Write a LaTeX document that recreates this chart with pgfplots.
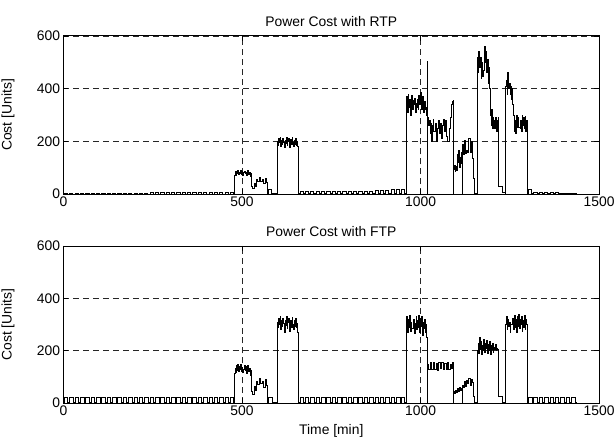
\documentclass[border=0pt]{standalone}
\usepackage{pgfplots}
\pgfplotsset{compat=1.18}
\usepackage{fontspec}
\setmainfont{Liberation Sans}
\begin{document}
\pgfplotsset{
  mystyle/.style={
    width=538bp, height=159bp, scale only axis,
    xmin=0, xmax=1500, ymin=0, ymax=600,
    xtick={0,500,1000,1500}, ytick={0,200,400,600},
    grid=major,
    major grid style={dash pattern=on 6bp off 4bp, black!85, line width=0.6bp},
    tick align=inside, major tick length=5bp,
    axis line style={line width=0.8bp},
    every tick/.style={black, line width=0.6bp},
    tick label style={font=\fontsize{14}{16}\selectfont},
    label style={font=\fontsize{14}{16}\selectfont},
    title style={font=\fontsize{14}{16}\selectfont, yshift=0bp},
    /pgf/number format/assume math mode=true,
    /pgf/number format/1000 sep={},
    ylabel={Cost [Units]},
    ylabel style={at={(axis description cs:-0.085,0.5)}},
    xticklabel style={yshift=1bp},
  },
  sig/.style={const plot, black, line width=0.6bp, mark=none},
}
\begin{tikzpicture}
\begin{axis}[mystyle, at={(0bp,0bp)}, anchor=south west, title={Power Cost with RTP}]
\addplot[sig] coordinates {
(0,1) (2,3) (11,1) (17,3) (26,1) (32,3) (41,1) (47,3) (56,1) (62,3) (71,1) (77,3) (86,1) (92,3) (101,1) (107,3) (116,1) (122,3) (131,1) (137,3) (146,1) (152,3) (161,1) (167,3) (176,1) (182,3) (191,1) (197,3) (206,1) (212,3) (221,1) (227,3) (236,1)
(242,7) (251,1) (257,7) (266,1) (272,7) (281,1) (287,7) (296,1) (302,7) (311,1) (317,7) (326,1) (332,7) (341,1) (347,7) (356,1) (362,7) (371,1) (377,7) (386,1) (392,7) (401,1) (407,7) (416,1) (422,7) (431,1) (437,7) (446,1) (452,7) (461,1) (467,7) (475,1)
(478,72) (480,85) (482,70) (484,88) (486,78) (488,92) (490,74) (492,84) (494,80) (496,90) (498,76) (500,86) (502,72) (504,82) (506,88) (508,78) (510,84) (512,70) (514,80) (516,90) (518,76) (520,84) (522,66) (524,80)
(526,30) (530,22) (534,42) (536,30) (540,58) (544,48) (548,62) (552,50) (556,56) (560,40) (564,60) (567,44)
(570,3) (574,18) (582,3)
(598,200) (600,185) (602,210) (604,195) (606,215) (608,180) (610,205) (612,190) (614,212) (616,198) (618,176) (620,205) (622,192) (624,215) (626,185) (628,200) (630,210) (632,178) (634,198) (636,206) (638,188) (640,214) (642,196) (644,182) (646,205) (648,190) (650,210) (652,186) (654,200) (656,180)
(657,2) (662,9) (671,2) (677,9) (686,2) (692,9) (701,2) (707,9) (716,2) (722,9) (731,2) (737,9) (746,2) (752,9) (761,2) (767,9) (776,2) (782,10) (791,2) (797,10) (806,2) (812,10) (821,2) (827,11) (836,2) (842,11) (851,2) (857,12) (866,2) (872,14) (881,2) (887,15) (896,2) (902,16) (911,2) (917,17) (926,2) (932,17) (941,2) (947,18) (955,2)
(959,340) (961,370) (963,310) (965,380) (967,330) (969,360) (971,300) (973,350) (975,375) (977,320) (979,355) (981,340) (983,365) (985,310) (987,345) (989,330) (991,360) (993,320) (995,375) (997,340) (999,385) (1001,350) (1003,320) (1005,370) (1007,340) (1009,310) (1011,350) (1013,320) (1015,300) (1017,330)
(1018.5,0) (1019,505) (1019.5,0) (1020,290)
(1022,260) (1024,280) (1026,230) (1028,270) (1030,200) (1033,260) (1035,285) (1037,240) (1040,270) (1043,200) (1046,200) (1048,250) (1050,280) (1052,230) (1055,270) (1058,210) (1061,260) (1064,285) (1066,240) (1069,280) (1072,220) (1075,200) (1078,200) (1081,250) (1083,290) (1085,330) (1087,340) (1089,350) (1091,355)
(1091.5,0) (1092,95) (1094,110) (1096,88) (1098,105) (1100,92) (1102,150) (1104,120) (1106,165) (1108,100) (1110,140) (1112,115) (1114,160) (1116,125)
(1116.5,0) (1117,190) (1120,150) (1123,205) (1126,155) (1129,165) (1132,160) (1135,210) (1138,160) (1141,200) (1144,135) (1147,60)
(1150,3)
(1159,520) (1161,460) (1163,540) (1165,480) (1167,520) (1169,440) (1171,500) (1173,445) (1175,445) (1177,470) (1179,560) (1181,500) (1183,540) (1185,460) (1187,510) (1189,420) (1191,480) (1193,400) (1195,300) (1197,260) (1199,320) (1201,250) (1203,290) (1205,280) (1207,250) (1209,290) (1211,290) (1213,240) (1215,280) (1217,290)
(1219,28) (1228,8) (1236,3)
(1238,410) (1240,430) (1242,380) (1244,460) (1246,400) (1248,420) (1250,380) (1252,410) (1254,360) (1256,400) (1258,340) (1260,300) (1262,240) (1264,280) (1266,230) (1268,300) (1270,255) (1272,290) (1274,253) (1276,253) (1278,250) (1280,280) (1282,240) (1284,300) (1286,260) (1288,290) (1290,250) (1292,295) (1294,240) (1296,280) (1298,250)
(1300,3) (1303,19) (1310,3) (1317,7) (1326,2) (1332,7) (1341,2) (1347,7) (1356,2) (1362,6) (1371,2) (1377,6) (1386,2) (1392,5) (1401,2) (1407,5) (1416,2) (1422,5) (1431,2) (1437,2)
};
\end{axis}
\begin{axis}[mystyle, at={(0bp,-210bp)}, anchor=south west, height=158bp, title={Power Cost with FTP}, xlabel={Time [min]}, xlabel style={yshift=-2bp}]
\addplot[sig] coordinates {
(0,2) (2,22) (12,2) (17,22) (27,2) (32,22) (42,2) (47,22) (57,2) (62,22) (72,2) (77,22) (87,2) (92,22) (102,2) (107,22) (117,2) (122,22) (132,2) (137,22) (147,2) (152,22) (162,2) (167,22) (177,2) (182,22) (192,2) (197,22) (207,2) (212,22) (222,2) (227,22) (237,2) (242,22) (252,2) (257,22) (267,2) (272,22) (282,2) (287,22) (297,2) (302,22) (312,2) (317,22) (327,2) (332,22) (342,2) (347,22) (357,2) (362,22) (372,2) (377,22) (387,2) (392,22) (402,2) (407,22) (417,2) (422,22) (432,2) (437,22) (447,2) (452,22) (462,2) (467,22) (476,2)
(478,115) (480,135) (482,118) (484,145) (486,125) (488,150) (490,120) (492,140) (494,128) (496,148) (498,122) (500,138) (502,118) (504,130) (506,145) (508,125) (510,140) (512,115) (514,128) (516,145) (518,122) (520,135) (522,108) (524,125)
(526,45) (530,35) (534,65) (536,48) (540,85) (544,72) (548,95) (552,75) (556,85) (560,62) (564,92) (567,70)
(570,2) (574,24) (584,2)
(598,310) (600,290) (602,325) (604,300) (606,330) (608,280) (610,315) (612,295) (614,325) (616,305) (618,272) (620,315) (622,298) (624,330) (626,285) (628,308) (630,322) (632,275) (634,305) (636,315) (638,290) (640,328) (642,300) (644,280) (646,315) (648,292) (650,322) (652,288) (654,305) (656,270)
(657,2) (662,22) (672,2) (677,22) (687,2) (692,22) (702,2) (707,22) (717,2) (722,22) (732,2) (737,22) (747,2) (752,22) (762,2) (767,22) (777,2) (782,22) (792,2) (797,22) (807,2) (812,22) (822,2) (827,22) (837,2) (842,22) (852,2) (857,22) (867,2) (872,22) (882,2) (887,22) (897,2) (902,22) (912,2) (917,22) (927,2) (932,22) (942,2) (947,22) (955,2)
(959,300) (961,330) (963,270) (965,320) (967,290) (969,335) (971,275) (973,310) (975,285) (977,285) (979,285) (981,320) (983,265) (985,305) (987,330) (989,280) (991,315) (993,290) (995,335) (997,270) (999,325) (1001,295) (1003,330) (1005,260) (1007,310) (1009,285) (1011,320) (1013,270) (1015,300) (1017,250)
(1018.5,0) (1019,150) (1022,130) (1027,155) (1031,128) (1035,155) (1039,130) (1043,152) (1046,127) (1050,155) (1055,132) (1059,156) (1063,128) (1067,154) (1071,130) (1075,155) (1079,128) (1083,150) (1087,132) (1089,157)
(1091.5,0) (1092,45) (1095,38) (1098,48) (1101,40) (1103,55) (1106,45) (1109,62) (1112,50) (1115,58)
(1116.5,0) (1117,70) (1120,60) (1123,85) (1126,65) (1129,88) (1132,75) (1135,95) (1138,70) (1141,90) (1144,80) (1147,25)
(1150,2)
(1159,200) (1161,230) (1163,190) (1165,250) (1167,205) (1169,235) (1171,185) (1173,220) (1175,200) (1177,245) (1179,195) (1181,230) (1183,210) (1185,240) (1187,190) (1189,225) (1191,200) (1193,235) (1195,185) (1197,220) (1199,205) (1201,230) (1203,195) (1205,215) (1207,205) (1209,225) (1211,200) (1213,210) (1215,205) (1217,200)
(1219,25) (1228,3)
(1238,300) (1240,330) (1242,280) (1244,320) (1246,295) (1248,310) (1250,270) (1252,300) (1254,300) (1256,300) (1258,325) (1260,280) (1262,335) (1264,290) (1266,320) (1268,270) (1270,330) (1272,295) (1274,340) (1276,285) (1278,320) (1280,300) (1282,330) (1284,275) (1286,315) (1288,290) (1290,335) (1292,280) (1294,320) (1296,300) (1298,265)
(1300,2) (1302,22) (1312,2) (1317,22) (1327,2) (1332,22) (1342,2) (1347,22) (1357,2) (1362,22) (1372,2) (1377,22) (1387,2) (1392,22) (1402,2) (1407,22) (1417,2) (1422,22) (1432,2) (1437,2)
};
\end{axis}
\pgfresetboundingbox
\path[use as bounding box] (-61bp,-251bp) rectangle (555bp,195bp);
\end{tikzpicture}
\end{document}
